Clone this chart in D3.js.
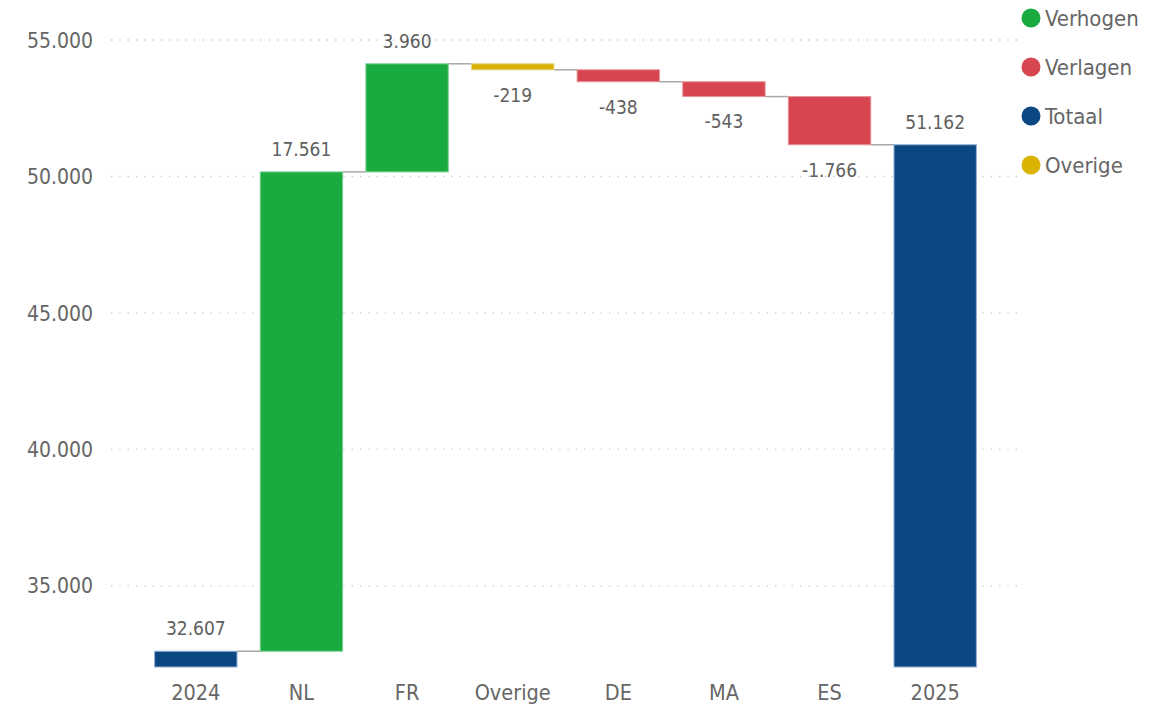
<!DOCTYPE html>
<html>
<head>
<meta charset="utf-8">
<script src="https://cdn.jsdelivr.net/npm/d3@7"></script>
<style>
  body { margin: 0; background: #fff; }
  text { font-family: "DejaVu Sans Condensed", "DejaVu Sans", sans-serif; fill: #666; }
</style>
</head>
<body>
<div class="svg-container"></div>
<script>
// data
var categories = ["2024", "NL", "FR", "Overige", "DE", "MA", "ES", "2025"];
var values = [32607, 17561, 3960, -219, -438, -543, -1766, 51162];
var kinds = ["Totaal", "Verhogen", "Verhogen", "Overige", "Verlagen", "Verlagen", "Verlagen", "Totaal"];
var yTicks = [35000, 40000, 45000, 50000, 55000];
var legendNames = ["Verhogen", "Verlagen", "Totaal", "Overige"];

var colors = { Verhogen: "#1aab40", Verlagen: "#d64550", Totaal: "#0b4783", Overige: "#d9b300" };
var borders = { Verhogen: "#7fcf94", Verlagen: "#e8939a", Totaal: "#8fb0d6", Overige: "#ead27a" };

var nl = d3.formatLocale({ decimal: ",", thousands: ".", grouping: [3], currency: ["€", ""], minus: "-" });
var fmt = nl.format(",d");

var width = 1169, height = 707;
var svg = d3.select(".svg-container").append("svg")
  .attr("width", width)
  .attr("height", height);

var x = d3.scaleBand().domain(categories).range([143, 988]).paddingInner(0.22).paddingOuter(0.11);
var y = d3.scaleLinear().domain([32030, 55000]).range([667, 40]);

// build waterfall segments
var running = 0;
var bars = categories.map(function(c, i) {
  var v = values[i], start, end;
  if (kinds[i] == "Totaal") { start = y.domain()[0]; end = v; running = v; }
  else { start = running; end = running + v; running = end; }
  return { cat: c, value: v, kind: kinds[i], start: start, end: end };
});

// gridlines
svg.append("g").selectAll("line")
  .data(yTicks).enter().append("line")
  .attr("x1", 111).attr("x2", 1020)
  .attr("y1", d => y(d)).attr("y2", d => y(d))
  .style("stroke", "#c8c8c8")
  .style("stroke-width", 1.3)
  .style("stroke-dasharray", "1.3 7");

// y axis labels
svg.append("g").selectAll("text")
  .data(yTicks).enter().append("text")
  .attr("x", 93).attr("y", d => y(d))
  .attr("dy", "0.36em")
  .style("text-anchor", "end")
  .style("font-size", "21px")
  .text(d => fmt(d));

// connectors
svg.append("g").selectAll("line")
  .data(bars.slice(0, -1)).enter().append("line")
  .attr("x1", d => x(d.cat) + x.bandwidth())
  .attr("x2", (d, i) => x(categories[i + 1]))
  .attr("y1", d => y(d.kind == "Totaal" ? d.value : d.end))
  .attr("y2", d => y(d.kind == "Totaal" ? d.value : d.end))
  .style("stroke", "#a8a8a8")
  .style("stroke-width", 1.5);

// bars
svg.append("g").selectAll("rect")
  .data(bars).enter().append("rect")
  .attr("x", d => x(d.cat))
  .attr("width", x.bandwidth())
  .attr("y", d => y(Math.max(d.start, d.end)))
  .attr("height", d => Math.abs(y(d.start) - y(d.end)))
  .style("fill", d => colors[d.kind])
  .style("stroke", d => borders[d.kind])
  .style("stroke-width", 1);

// data labels
svg.append("g").selectAll("text")
  .data(bars).enter().append("text")
  .attr("x", d => x(d.cat) + x.bandwidth() / 2)
  .attr("y", d => d.value < 0 ? y(Math.min(d.start, d.end)) + 25 : y(Math.max(d.start, d.end)) - 23)
  .attr("dy", "0.36em")
  .style("text-anchor", "middle")
  .style("font-size", "19px")
  .style("fill", "#5f5f5f")
  .text(d => fmt(d.value));

// x axis labels
svg.append("g").selectAll("text")
  .data(categories).enter().append("text")
  .attr("x", d => x(d) + x.bandwidth() / 2)
  .attr("y", 692)
  .attr("dy", "0.36em")
  .style("text-anchor", "middle")
  .style("font-size", "21.5px")
  .text(d => d);

// legend
var leg = svg.append("g").selectAll("g")
  .data(legendNames).enter().append("g")
  .attr("transform", (d, i) => "translate(1031," + (18 + i * 49) + ")");
leg.append("circle").attr("r", 9.5).style("fill", d => colors[d]);
leg.append("text")
  .attr("x", 14).attr("dy", "0.36em")
  .style("font-size", "22px")
  .text(d => d);
</script>
</body>
</html>
